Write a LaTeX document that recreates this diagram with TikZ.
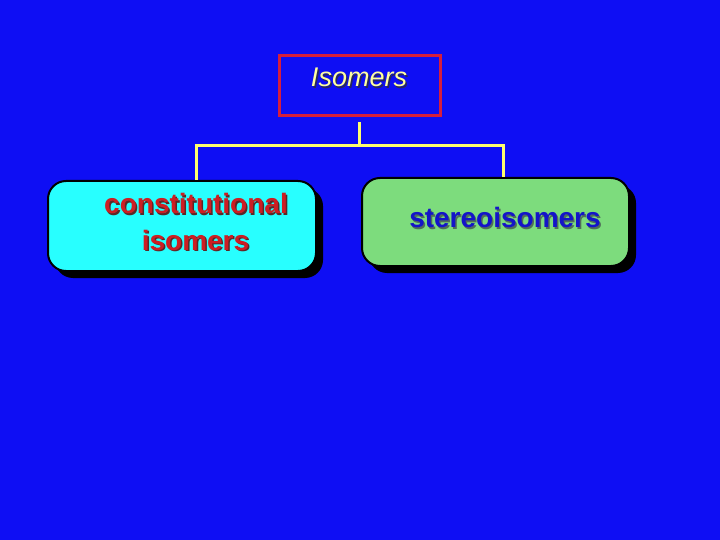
\documentclass[tikz,border=0pt]{standalone}
\usepackage{fontspec}
\setmainfont{Liberation Sans}
\definecolor{bg}{RGB}{14,14,244}
\definecolor{isored}{RGB}{214,30,60}
\definecolor{lineyel}{RGB}{255,255,110}
\definecolor{txtyel}{RGB}{255,255,160}
\definecolor{cyanfill}{RGB}{40,255,255}
\definecolor{greenfill}{RGB}{125,220,125}
\definecolor{constred}{RGB}{205,30,35}
\definecolor{constsh}{RGB}{90,40,40}
\definecolor{sterblue}{RGB}{20,20,200}
\definecolor{stersh}{RGB}{80,110,90}
\definecolor{isosh}{RGB}{40,40,90}
\newcommand{\shtext}[3]{{\color{#1}\rlap{\hspace{1.5pt}\raisebox{-1.5pt}{#3}}}{\color{#2}#3}}
\begin{document}
\begin{tikzpicture}[x=1pt,y=-1pt,
  roundbox/.style={rounded corners=18pt, draw=black, line width=2pt, inner sep=0pt},
  shadowbox/.style={rounded corners=18pt, fill=black, inner sep=0pt},
  conn/.style={draw=lineyel, line width=3pt},
  bigtext/.style={font=\fontsize{28}{34}\selectfont\bfseries, inner sep=0pt, anchor=base},
  ittext/.style={font=\fontsize{27}{32}\selectfont\itshape, inner sep=0pt, anchor=base}]
\fill[bg] (0,0) rectangle (720,540);
\useasboundingbox (0,0) rectangle (720,540);
% Isomers box
\node[draw=isored, line width=3pt, minimum width=161pt, minimum height=60pt, inner sep=0pt] (iso) at (359.5,86) {};
\node[ittext] (isoT) at (359,87) {\shtext{isosh}{txtyel}{Isomers}};
% shadows
\node[shadowbox, minimum width=268pt, minimum height=90pt] (consSh) at (189,233) {};
\node[shadowbox, minimum width=267pt, minimum height=88pt] (sterSh) at (502.5,229) {};
% boxes
\node[roundbox, fill=cyanfill, minimum width=268pt, minimum height=90pt] (cons) at (182,226) {};
\node[roundbox, fill=greenfill, minimum width=267pt, minimum height=88pt] (ster) at (495.5,222) {};
% texts
\node[bigtext] (c1) at (196,214) {\shtext{constsh}{constred}{constitutional}};
\node[bigtext] (c2) at (195.5,250) {\shtext{constsh}{constred}{isomers}};
\node[bigtext] (s) at (505,228) {\shtext{stersh}{sterblue}{stereoisomers}};
% connectors
\coordinate (top) at (359,122);
\coordinate (j) at (359,146);
\coordinate (jl) at (196,146);
\coordinate (jr) at (503,146);
\draw[conn] (top) -- (j);
\draw[conn, line cap=rect] (jl) -- (jr);
\draw[conn] (jl) -- (jl |- cons.north);
\draw[conn] (jr) -- (jr |- ster.north);
\end{tikzpicture}
\end{document}
